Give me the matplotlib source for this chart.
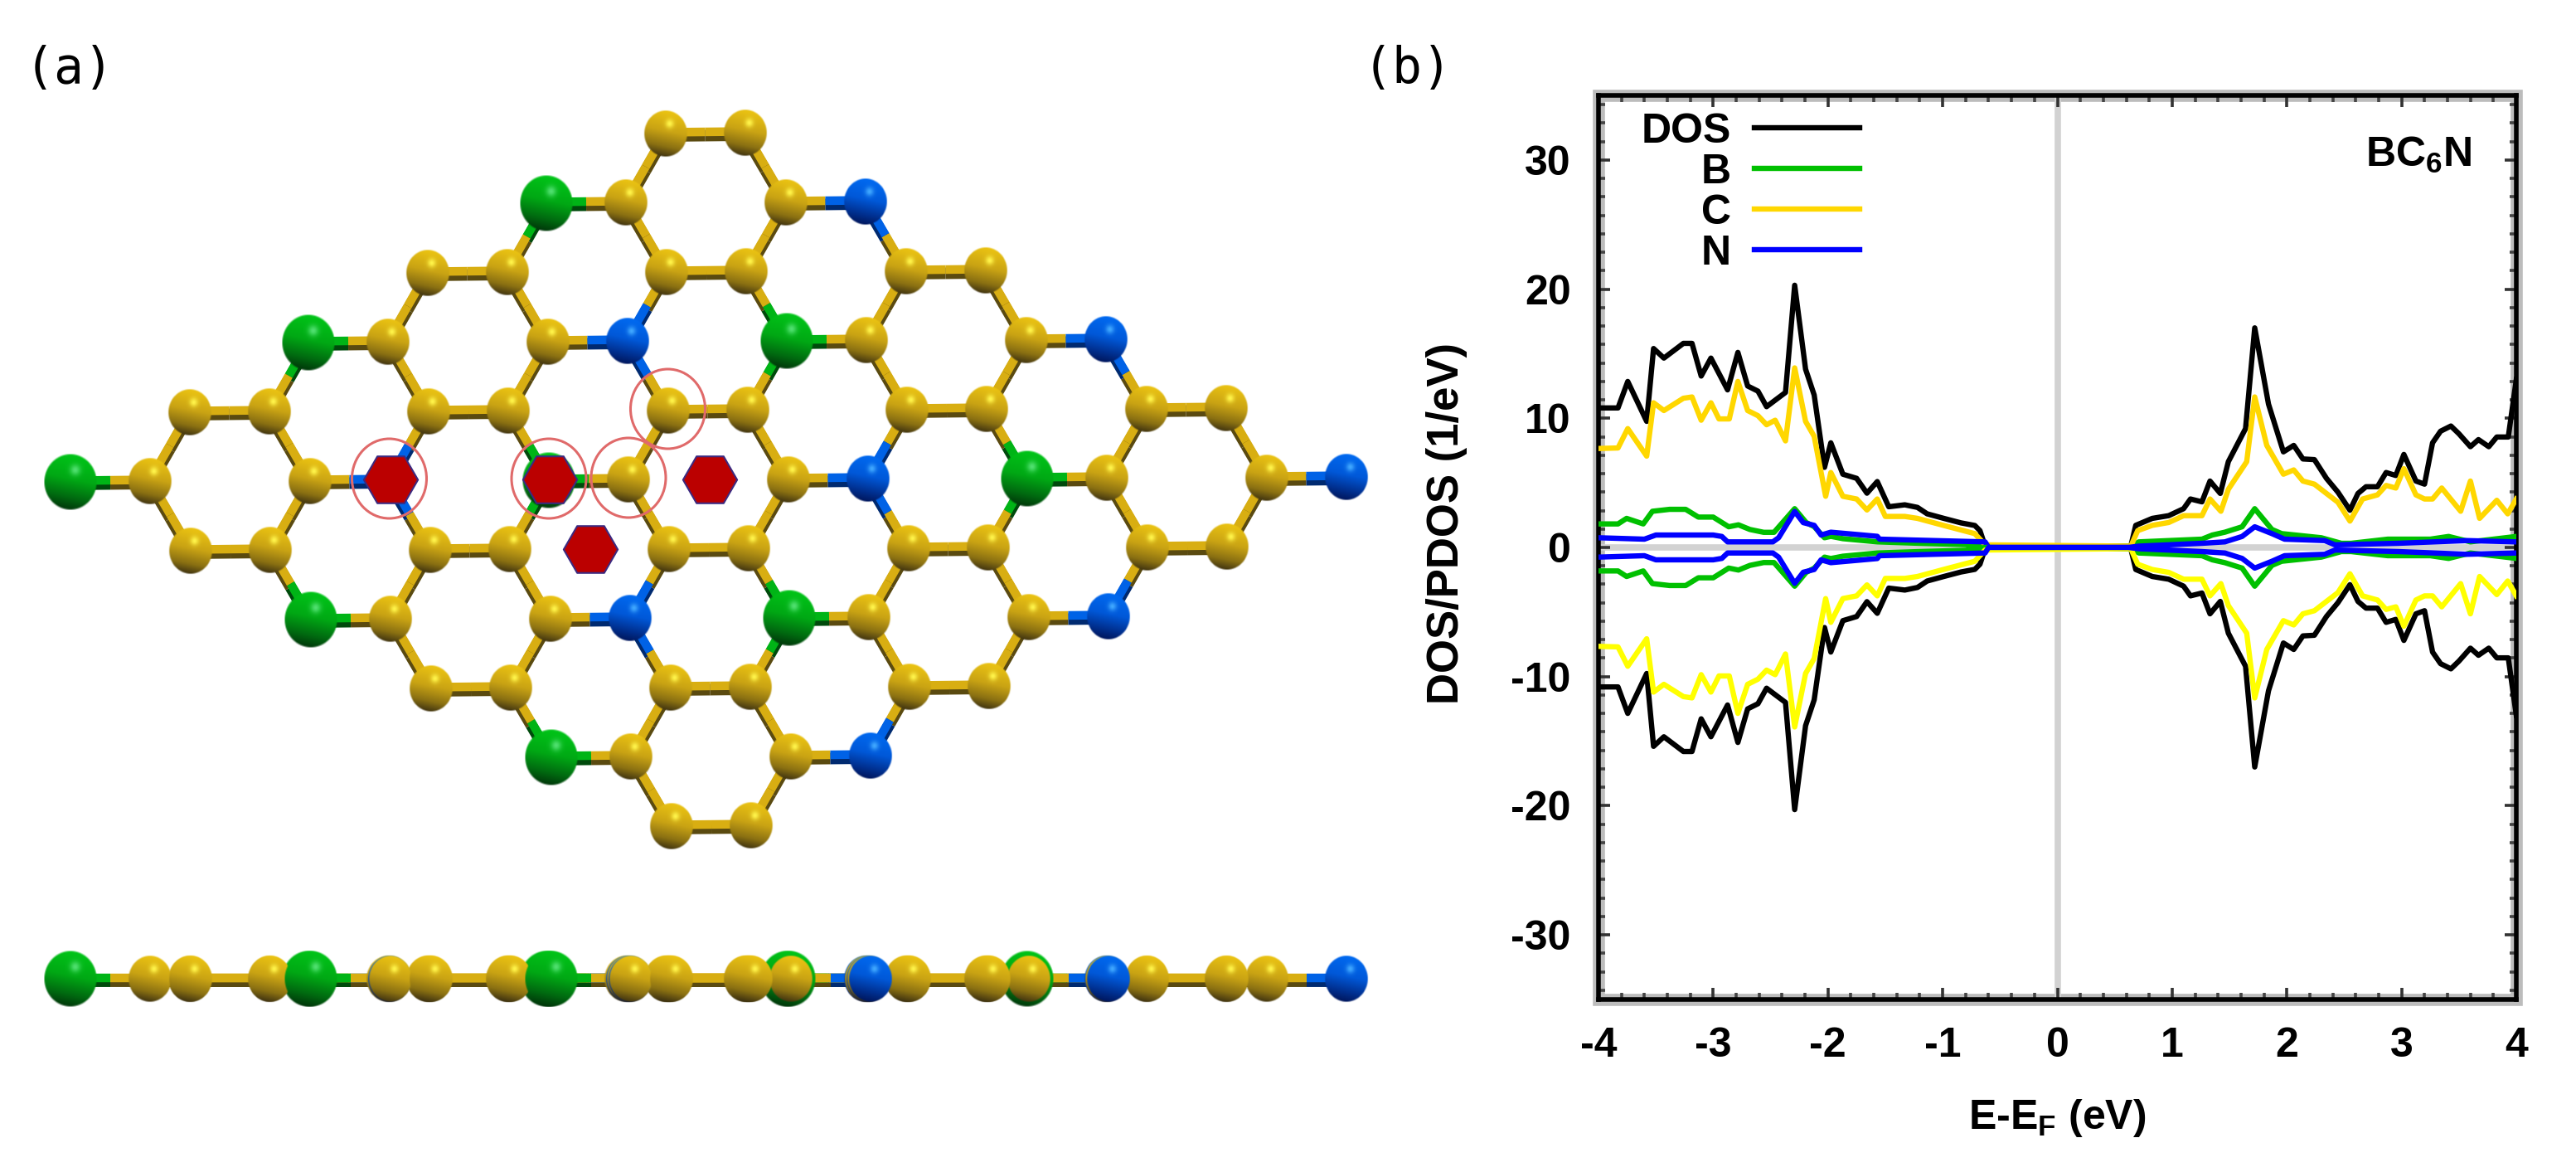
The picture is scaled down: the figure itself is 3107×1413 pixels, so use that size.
import numpy as np
import matplotlib
matplotlib.use("Agg")
import matplotlib.pyplot as plt
from matplotlib.patches import Rectangle, Ellipse
from matplotlib.colors import to_rgb
from matplotlib.ticker import AutoMinorLocator

plt.rcParams["font.family"] = ["Liberation Sans", "DejaVu Sans"]
plt.rcParams["font.weight"] = "bold"
plt.rcParams["axes.labelweight"] = "bold"
plt.rcParams["axes.unicode_minus"] = False
plt.rcParams["mathtext.fontset"] = "custom"
plt.rcParams["mathtext.rm"] = "Liberation Sans"
plt.rcParams["mathtext.bf"] = "Liberation Sans:bold"
plt.rcParams["mathtext.default"] = "bf"

W, H = 3107, 1413

# spin up DOS / PDOS, spin down is the mirror image
dos_e = [-4.0, -3.83, -3.745, -3.58, -3.52, -3.43, -3.26, -3.185, -3.105, -3.02, -2.875, -2.785,
         -2.70, -2.61, -2.535, -2.37, -2.29, -2.195, -2.12, -2.03, -1.975, -1.87, -1.75, -1.66,
         -1.57, -1.47, -1.33, -1.22, -1.135, -0.99, -0.84, -0.72, -0.675, -0.63,
         0.64, 0.683, 0.827, 0.97, 1.10, 1.16, 1.26, 1.33, 1.42, 1.49, 1.64, 1.72, 1.84, 1.97,
         2.06, 2.14, 2.24, 2.345, 2.445, 2.55, 2.62, 2.69, 2.79, 2.865, 2.95, 3.02, 3.125, 3.2,
         3.27, 3.34, 3.43, 3.5, 3.6, 3.67, 3.76, 3.83, 3.93, 4.0]
dos_v = [10.8, 10.8, 12.85, 9.76, 15.4, 14.66, 15.8, 15.8, 13.27, 14.66, 12.2, 15.1,
         12.5, 12.1, 10.9, 12.0, 20.3, 13.8, 11.8, 6.2, 8.1, 5.67, 5.35, 4.2,
         5.1, 3.15, 3.3, 3.1, 2.6, 2.25, 1.9, 1.7, 1.3, 0.1,
         0.1, 1.71, 2.25, 2.46, 3.0, 3.75, 3.53, 5.14, 4.18, 6.64, 9.2, 17.0, 11.1, 7.4,
         7.9, 6.85, 6.8, 5.35, 4.28, 2.88, 4.18, 4.7, 4.7, 5.8, 5.57, 7.2, 5.14, 4.9,
         8.1, 9.0, 9.4, 8.8, 7.8, 8.35, 7.8, 8.55, 8.55, 13.0]

c_e = [-4.0, -3.83, -3.745, -3.58, -3.52, -3.43, -3.26, -3.185, -3.105, -3.02, -2.95, -2.86,
       -2.785, -2.70, -2.61, -2.535, -2.46, -2.37, -2.29, -2.195, -2.12, -2.02, -1.975, -1.87,
       -1.75, -1.66, -1.57, -1.50, -1.33, -1.22, -0.99, -0.72, -0.63,
       0.64, 0.70, 0.827, 0.97, 1.10, 1.26, 1.33, 1.425, 1.49, 1.65, 1.72, 1.825, 1.97,
       2.06, 2.14, 2.24, 2.345, 2.445, 2.55, 2.66, 2.79, 2.865, 2.95, 3.02, 3.125, 3.2,
       3.27, 3.35, 3.515, 3.6, 3.68, 3.83, 3.925, 4.0]
c_v = [7.66, 7.7, 9.2, 7.07, 11.2, 10.6, 11.55, 11.65, 9.85, 11.2, 9.95, 9.95,
       12.85, 10.6, 10.2, 9.5, 9.85, 8.25, 13.9, 9.76, 8.6, 3.96, 5.8, 3.96,
       3.75, 2.9, 3.75, 2.4, 2.4, 2.25, 1.7, 1.07, 0.2,
       0.1, 1.3, 1.71, 1.93, 2.46, 2.46, 3.75, 2.8, 4.5, 6.64, 11.65, 7.9, 5.67,
       6.0, 5.14, 4.9, 4.18, 3.5, 2.04, 3.75, 4.07, 4.8, 4.6, 6.1, 4.07, 3.75,
       3.75, 4.6, 2.8, 5.14, 2.25, 3.65, 2.6, 3.75]

b_e = [-4.0, -3.83, -3.755, -3.61, -3.53, -3.38, -3.24, -3.13, -3.0, -2.865, -2.78, -2.68,
       -2.56, -2.47, -2.29, -2.19, -2.12, -2.03, -1.975, -1.87, -1.57, -1.2, -0.8, -0.63,
       0.64, 0.71, 1.26, 1.35, 1.46, 1.61, 1.72, 1.87, 1.955, 2.3, 2.475, 2.56, 2.88,
       3.25, 3.41, 3.6, 4.0]
b_v = [1.82, 1.82, 2.25, 1.82, 2.8, 2.95, 2.95, 2.35, 2.35, 1.6, 1.75, 1.39,
       1.17, 1.17, 3.0, 1.93, 1.61, 0.75, 0.86, 0.68, 0.43, 0.32, 0.22, 0.0,
       0.1, 0.43, 0.64, 0.96, 1.18, 1.6, 3.0, 1.39, 1.07, 0.75, 0.32, 0.32, 0.64,
       0.64, 0.85, 0.43, 0.85]

n_e = [-4.0, -3.60, -3.50, -3.0, -2.925, -2.875, -2.48, -2.43, -2.29, -2.215, -2.12, -2.06,
       -1.975, -1.57, -1.55, -0.63, -0.6, 0.62, 0.71, 1.26, 1.46, 1.61, 1.72, 1.87, 1.98,
       2.33, 2.42, 2.97, 3.57, 4.0]
n_v = [0.75, 0.64, 0.96, 0.96, 0.85, 0.43, 0.43, 0.75, 2.78, 1.92, 1.71, 0.96,
       1.18, 0.86, 0.64, 0.43, 0.0, 0.0, 0.1, 0.32, 0.43, 0.85, 1.6, 1.07, 0.64,
       0.53, 0.2, 0.32, 0.53, 0.43]

series_names = ["DOS", "B", "C", "N"]
up_colors = ["#000000", "#00c000", "#ffd700", "#0000ff"]
down_colors = ["#000000", "#00c000", "#ffff00", "#0000ff"]

x_ticks = [-4, -3, -2, -1, 0, 1, 2, 3, 4]
y_ticks = [-30, -20, -10, 0, 10, 20, 30]

# BC6N supercell, 6x6 honeycomb cells, sublattice A/B
n_cells = 6
a1 = np.array([145.0, 83.0])
a2 = np.array([143.5, -84.0])
bond = np.array([96.0, -1.0])
origin = np.array([85.0, 581.0])
side_y = 1180.0

# lattice sites of the red markers
circle_sites = [("B", 1, 1), ("A", 2, 2), ("B", 2, 2), ("A", 2, 3)]
hex_sites = [("B", 1, 1), ("A", 2, 2), ("H", 3, 3), ("H", 3, 2)]

ball_colors = {
    "C": ["#f0c812", "#c9a314", "#8a7012", "#2f2610", "#fff44a"],
    "B": ["#00c818", "#00a814", "#006a10", "#002a08", "#50e070"],
    "N": ["#006cf4", "#0058d8", "#003090", "#001050", "#40a8ff"],
}
ball_radius = {"C": (27, 29), "B": (33, 35), "N": (27, 29)}
bond_light = {"C": "#d8ae12", "B": "#00b416", "N": "#0062e6"}
bond_dark = {"C": "#5a4a10", "B": "#004a0c", "N": "#002a70"}


def site_pos(kind, i, j):
    p = origin + i * a1 + j * a2
    if kind == "B":
        p = p + bond
    if kind == "H":
        p = p - bond
    return p


def species(kind, i, j):
    if kind == "A" and i % 2 == 0 and j % 2 == 0:
        return "B"
    if kind == "B" and i % 2 == 1 and j % 2 == 1:
        return "N"
    return "C"


def make_sprite(name, n=64):
    top, mid, low, bottom, spot = [np.array(to_rgb(c)) for c in ball_colors[name]]
    v, u = np.mgrid[-1:1:n * 1j, -1:1:n * 1j]
    t = np.clip((v - 0.2 * u + 1.1) / 2.2, 0, 1)
    rgb = np.zeros((n, n, 4))
    for k in range(3):
        rgb[..., k] = np.interp(t, [0, 0.45, 0.75, 1], [top[k], mid[k], low[k], bottom[k]])
    glow = np.exp(-((u - 0.18) ** 2 + (v + 0.42) ** 2) / 0.035)[..., None]
    rgb[..., :3] = rgb[..., :3] * (1 - glow) + spot * glow
    rgb[..., 3] = np.clip((1 - np.hypot(u, v)) * n / 4, 0, 1)
    return rgb


def draw_bond(ax, p, q, name_p, name_q):
    mid = (p + q) / 2
    for start, name in ((p, name_p), (q, name_q)):
        ax.plot([start[0], mid[0]], [start[1] + 3, mid[1] + 3], color=bond_dark[name], lw=10,
                solid_capstyle="butt", zorder=1)
        ax.plot([start[0], mid[0]], [start[1] - 1.5, mid[1] - 1.5], color=bond_light[name], lw=7.5,
                solid_capstyle="butt", zorder=2)


def draw_structure(ax):
    sprites = {k: make_sprite(k) for k in ball_colors}
    atoms = []
    for i in range(n_cells):
        for j in range(n_cells):
            for kind in "AB":
                atoms.append((site_pos(kind, i, j), species(kind, i, j)))
            pa = site_pos("A", i, j)
            sa = species("A", i, j)
            neighbours = [(i, j), (i - 1, j), (i, j - 1)]
            for ni, nj in neighbours:
                if ni < 0 or nj < 0:
                    continue
                pb = site_pos("B", ni, nj)
                sb = species("B", ni, nj)
                draw_bond(ax, pa, pb, sa, sb)
                # side view, same bond flattened
                draw_bond(ax, np.array([pa[0], side_y]), np.array([pb[0], side_y]), sa, sb)

    atoms.sort(key=lambda a: a[0][1])
    for pos, name in atoms:
        rx, ry = ball_radius[name]
        for y in (pos[1], side_y):
            ax.imshow(sprites[name], extent=(pos[0] - rx, pos[0] + rx, y + ry, y - ry),
                      zorder=3, aspect="auto", interpolation="bilinear")

    hx = [site_pos(*s)[0] + 1 for s in hex_sites]
    hy = [site_pos(*s)[1] - 1 for s in hex_sites]
    ax.scatter(hx, hy, s=47 ** 2, marker="H", facecolor="#bb0000", edgecolor="#3c2a80",
               linewidth=1.5, zorder=5)
    for s in circle_sites:
        p = site_pos(*s)
        ax.add_patch(Ellipse((p[0], p[1] - 2), 90, 96, fill=False, edgecolor="#e06a6a", lw=2.2, zorder=6))


def draw_dos(ax):
    ax.axhline(0, color="#d2d2d2", lw=5.5, zorder=1)
    ax.axvline(0, color="#d2d2d2", lw=5.5, zorder=1)

    data = [(dos_e, dos_v), (b_e, b_v), (c_e, c_v), (n_e, n_v)]
    handles = []
    for (e, v), name, col in zip(data, series_names, up_colors):
        line, = ax.plot(e, v, color=col, lw=4.6, label=name, zorder=3)
        handles.append(line)
    for (e, v), col in zip(data, down_colors):
        ax.plot(e, -np.array(v), color=col, lw=4.6, zorder=3)

    ax.set_xlim(-4, 4)
    ax.set_ylim(-35, 35)
    ax.set_xticks(x_ticks)
    ax.set_yticks(y_ticks)
    ax.xaxis.set_minor_locator(AutoMinorLocator(5))
    ax.yaxis.set_minor_locator(AutoMinorLocator(7))
    ax.tick_params(which="major", direction="in", top=True, right=True, length=10, width=2.6,
                   labelsize=36, color="#333333")
    ax.tick_params(which="minor", direction="in", top=True, right=True, length=5.5, width=2.6,
                   color="#444444")
    ax.tick_params(axis="y", which="major", pad=24)
    ax.tick_params(axis="x", which="major", pad=24)
    for spine in ax.spines.values():
        spine.set_linewidth(4.0)
    ax.set_xlabel("E-E$_{F}$ (eV)", fontsize=36, labelpad=28)
    ax.set_ylabel("DOS/PDOS (1/eV)", fontsize=38, labelpad=38, y=0.527)
    ax.text(3.147, 30.4, "BC$_{6}$N", fontsize=36, ha="center", va="center")

    ax.legend(handles=handles, loc="upper left", bbox_to_anchor=(0.04, 0.988), frameon=False,
              markerfirst=False, fontsize=36, handlelength=2.55, handletextpad=0.55,
              labelspacing=0.06, borderpad=0.15, borderaxespad=0.0)

    # soft grey edge on both sides of the frame
    ax.add_patch(Rectangle((0, 0), 1, 1, transform=ax.transAxes, fill=False,
                           edgecolor="#bcbcbc", lw=10.5, clip_on=False, zorder=0.5))


def main():
    fig = plt.figure(figsize=(W / 100, H / 100), dpi=100)

    ax_a = fig.add_axes([0, 0, 1800 / W, 1])
    draw_structure(ax_a)
    ax_a.set_xlim(0, 1800)
    ax_a.set_ylim(H, 0)
    ax_a.axis("off")

    left, right, top, bottom = 1928, 3035, 115, 1205
    ax_b = fig.add_axes([left / W, 1 - bottom / H, (right - left) / W, (bottom - top) / H])
    draw_dos(ax_b)

    fig.text(84 / W, 1 - 84 / H, "(a)", family="DejaVu Sans Mono", weight="normal", fontsize=43,
             ha="center", va="center")
    fig.text(1698 / W, 1 - 84 / H, "(b)", family="DejaVu Sans Mono", weight="normal", fontsize=43,
             ha="center", va="center")

    fig.savefig("out.png", dpi=100)


if __name__ == "__main__":
    main()
